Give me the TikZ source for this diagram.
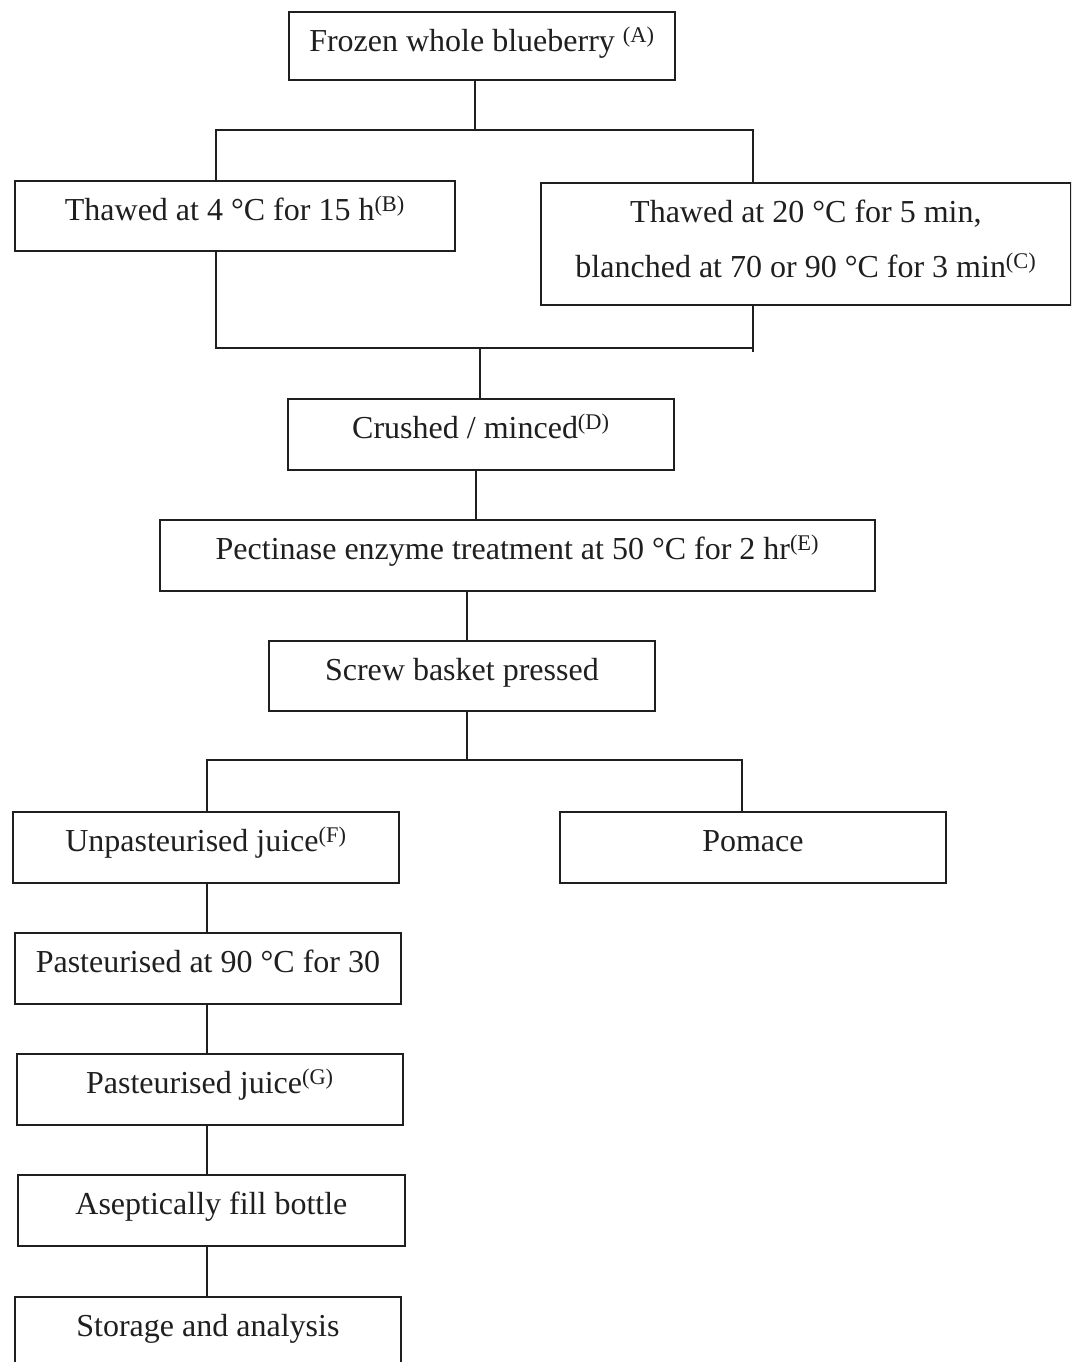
\documentclass[tikz,border=0pt]{standalone}
\usepackage{fontspec}
\setmainfont{Liberation Serif}
\definecolor{ink}{gray}{0.12}
\begin{document}
\begin{tikzpicture}[x=1pt,y=-1pt,
  stepbox/.style={draw=ink,line width=1.8pt,inner sep=0pt,anchor=north west,
    text height=40pt,text depth=#1,text=ink,font=\fontsize{32}{38}\selectfont},
  stepbox/.default=31pt,
  link/.style={draw=ink,line width=1.4pt}]
\clip (0,0) rectangle (1071,1362);
\fill[white] (0,0) rectangle (1071,1362);

% process steps
\node[stepbox=28pt,minimum width=386pt] (A) at (288,11) {Frozen whole blueberry \textsuperscript{(A)}};
\node[stepbox=30pt,minimum width=440pt] (B) at (14,180) {Thawed at 4 °C for 15 h\textsuperscript{(B)}};
\node[stepbox=82pt,minimum width=530pt] (C) at (540,182)
  {\fontsize{32}{55}\selectfont\begin{tabular}[t]{@{}c@{}}Thawed at 20 °C for 5 min,\\ blanched at 70 or 90 °C for 3 min\textsuperscript{(C)}\end{tabular}};
\node[stepbox,minimum width=386pt] (D) at (287,398) {Crushed / minced\textsuperscript{(D)}};
\node[stepbox,minimum width=715pt] (E) at (159,519) {Pectinase enzyme treatment at 50 °C for 2 hr\textsuperscript{(E)}};
\node[stepbox=30pt,minimum width=386pt] (S) at (268,640) {Screw basket pressed};
\node[stepbox,minimum width=386pt] (F) at (12,811) {Unpasteurised juice\textsuperscript{(F)}};
\node[stepbox,minimum width=386pt] (P) at (559,811) {Pomace};
\node[stepbox,minimum width=386pt] (H) at (14,932) {Pasteurised at 90 °C for 30};
\node[stepbox,minimum width=386pt] (G) at (16,1053) {Pasteurised juice\textsuperscript{(G)}};
\node[stepbox,minimum width=387pt] (K) at (17,1174) {Aseptically fill bottle};
\node[stepbox=60pt,minimum width=386pt] (T) at (14,1296) {Storage and analysis};

% junction points
\coordinate (j1) at (475,130); \coordinate (j1L) at (216,130); \coordinate (j1R) at (753,130);
\coordinate (j2) at (480,348); \coordinate (j2L) at (216,348); \coordinate (j2R) at (753,348);
\coordinate (j3) at (467,760); \coordinate (j3L) at (207,760); \coordinate (j3R) at (742,760);
\coordinate (d) at (476,0);

% connectors
\draw[link] (A.south -| j1) -- (j1);
\draw[link] (B.north -| j1L) -- (j1L) -- (j1R) -- (C.north -| j1R);
\draw[link] (B.south -| j2L) -- (j2L) -- (j2R);
\draw[link] (C.south -| j2R) -- ([yshift=-4pt]j2R);
\draw[link] (j2) -- (D.north -| j2);
\draw[link] (D.south -| d) -- (E.north -| d);
\draw[link] (E.south -| j3) -- (S.north -| j3);
\draw[link] (S.south -| j3) -- (j3);
\draw[link] (F.north -| j3L) -- (j3L) -- (j3R) -- (P.north -| j3R);
\draw[link] (F.south -| j3L) -- (H.north -| j3L);
\draw[link] (H.south -| j3L) -- (G.north -| j3L);
\draw[link] (G.south -| j3L) -- (K.north -| j3L);
\draw[link] (K.south -| j3L) -- (T.north -| j3L);
\end{tikzpicture}
\end{document}
